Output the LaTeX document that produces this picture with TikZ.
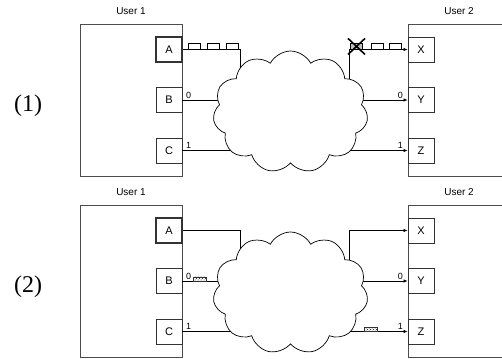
\documentclass[tikz,border=0pt]{standalone}
\usepackage{fontspec}
\setmainfont{Liberation Serif}
\setsansfont{Liberation Sans}
\usetikzlibrary{shapes.symbols,arrows.meta,positioning,calc,patterns}

\tikzset{
  userbox/.style={draw=black!70, line width=0.9pt},
  port/.style={draw=black!80, line width=0.8pt, minimum width=26pt, minimum height=25pt,
    inner sep=0pt, font=\sffamily\fontsize{11}{12}\selectfont},
  netcloud/.style={cloud, cloud puffs=11, cloud puff arc=125, cloud ignores aspect,
    draw, fill=white, line width=0.7pt, minimum width=155pt, minimum height=122pt},
  link/.style={line width=0.7pt},
  tolink/.style={link, -{Latex[length=4pt,width=3.5pt]}},
  bit/.style={font=\sffamily\fontsize{9}{10}\selectfont, inner sep=0.5pt},
  packet/.style={draw, line width=0.6pt, minimum width=12pt, minimum height=5.5pt, inner sep=0pt},
  smallpacket/.style={draw=black!80, pattern=crosshatch dots, line width=0.4pt, minimum width=13pt,
    minimum height=4pt, inner sep=0pt},
  user/.style={font=\sffamily\fontsize{10}{11}\selectfont},
  step label/.style={font=\fontsize{24}{28}\selectfont}
}

\begin{document}
\begin{tikzpicture}[x=1pt, y=-1pt]
  \clip (0,0) rectangle (502,358);

  \foreach \n/\dy in {1/0, 2/181} {
    \begin{scope}[yshift=-\dy pt]
      % --- User 1 ---
      \node[user] (u1-\n) at (131,11) {User 1};
      \draw[userbox] (80,24) rectangle (182,176);
      \node[port, line width=1.1pt] (A\n) at (169,49.5) {A};
      \node[port] (B\n) at (169,100) {B};
      \node[port] (C\n) at (169,150.5) {C};
      \node[step label] (lab\n) at (28,106) {(\n)};

      % --- User 2 ---
      \node[user] (u2-\n) at (459,11) {User 2};
      \draw[userbox] (408,24) rectangle (512,176);
      \node[port] (X\n) at (421,49.5) {X};
      \node[port] (Y\n) at (421,100) {Y};
      \node[port] (Z\n) at (421,150.5) {Z};

      % network
      \coordinate (c\n) at (290.5,112);
      \coordinate (dropA\n) at (240,112);
      \coordinate (riseX\n) at (349,112);

      \draw[link] (A\n.east) -| (dropA\n);
      \draw[link] (B\n.east) -- (B\n.east -| c\n);
      \draw[link] (C\n.east) -- (C\n.east -| c\n);
      \draw[tolink] (riseX\n) |- (X\n.west);
      \draw[tolink] (c\n |- Y\n.west) -- (Y\n.west);
      \draw[tolink] (c\n |- Z\n.west) -- (Z\n.west);

      \node[netcloud] (net\n) at (c\n) {};

      \node[bit, above right=1pt and 3pt of B\n.east] (b0-\n) {0};
      \node[bit, above right=1pt and 3pt of C\n.east] (b1-\n) {1};
      \node[bit, above left=1pt and 4pt of Y\n.west] (r0-\n) {0};
      \node[bit, above left=1pt and 4pt of Z\n.west] (r1-\n) {1};
    \end{scope}
  }

  % --- Panel 1: packets in flight ---
  \foreach \x in {194,213,232}
    \node[packet, anchor=south] at (\x,49.5) {};
  \node[packet, fill=gray!50, anchor=south] (lost) at (356,49.5) {};
  \foreach \x in {377,395}
    \node[packet, anchor=south] at (\x,49.5) {};
  \draw[line width=1.6pt] ($(lost)+(-8,-8)$) -- ($(lost)+(9,8)$)
                          ($(lost)+(-8,8)$) -- ($(lost)+(9,-8)$);

  % --- Panel 2: packets in flight ---
  \begin{scope}[yshift=-181pt]
    \node[smallpacket, anchor=south] at (199.5,100) {};
    \node[smallpacket, anchor=south] at (370.5,150.5) {};
  \end{scope}
\end{tikzpicture}
\end{document}
